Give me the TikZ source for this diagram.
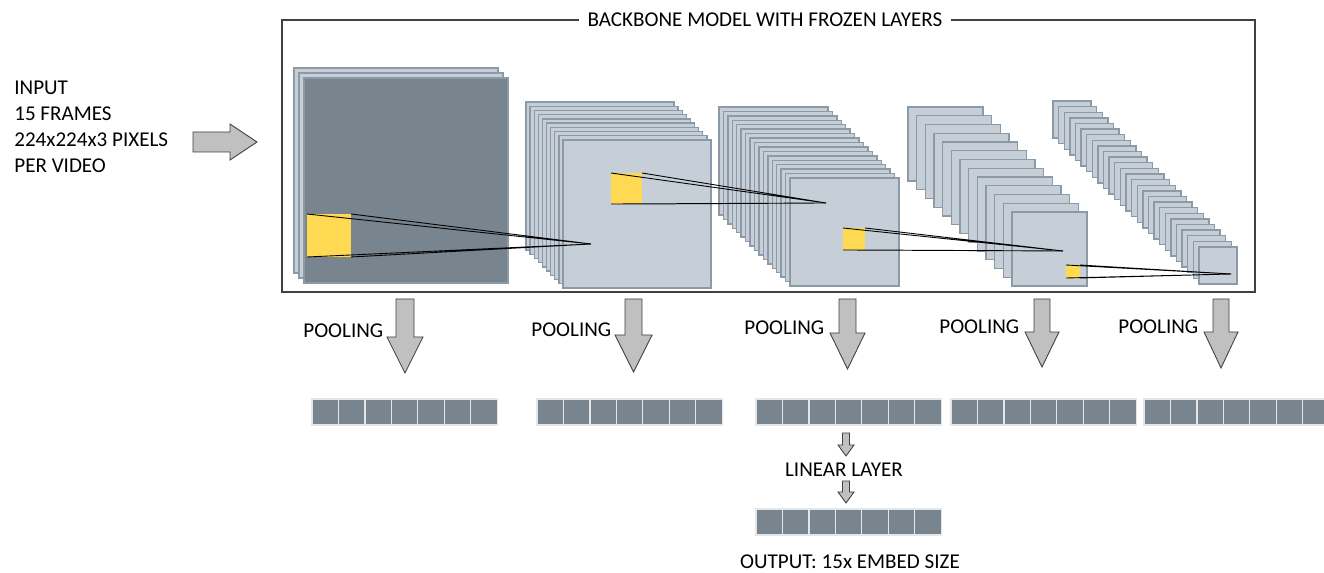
\documentclass[tikz,border=0pt]{standalone}
\usepackage{fontspec}
\setmainfont{Carlito}
\definecolor{slate}{RGB}{120,132,142}
\definecolor{sheet}{RGB}{198,206,215}
\definecolor{sheetedge}{RGB}{140,154,166}
\definecolor{patch}{RGB}{255,217,82}
\definecolor{arrowgrey}{RGB}{192,192,192}
\definecolor{linegrey}{RGB}{64,64,64}
\tikzset{
  sheetbox/.style={fill=sheet, draw=sheetedge, line width=0.8pt},
  cellbox/.style={fill=slate, draw=white!80!slate, line width=0.7pt},
  blockarrow/.style={fill=arrowgrey, draw=linegrey, line width=0.5pt, line join=miter},
  txt/.style={font=\fontsize{12}{14.8}\selectfont, inner sep=0pt},
  ray/.style={black, line width=0.5pt}
}
\begin{document}
\begin{tikzpicture}[x=0.02cm, y=-0.02cm]
  \useasboundingbox (0,0) rectangle (1324,573);
  \draw[linegrey, line width=0.8pt] (282,20) rectangle (1255,292);
  \node[txt, fill=white, inner xsep=5pt, inner ysep=2pt] (title) at (765,20) {BACKBONE MODEL WITH FROZEN LAYERS};
  \node[txt, align=left, anchor=west] (input) at (14,127) {INPUT\\15 FRAMES\\224x224x3 PIXELS\\PER VIDEO};
  \filldraw[blockarrow] (193,132) -- (230,132) -- (230,124) -- (257,142) -- (230,160) -- (230,152) -- (193,152) -- cycle;
  % feature map stacks, back sheet to front sheet
  \foreach \bx/\by/\fx/\fy/\w/\h/\n in {294/68/304/78/204/205/3, 526/102/563/140/148/148/10,
      719/107/790/178/109/108/17, 908/107/1012/212/75/74/13, 1053/101/1199/247/38/37/27} {
    \foreach \i in {1,...,\n} {
      \pgfmathsetmacro\px{\bx+(\i-1)*(\fx-\bx)/(\n-1)}
      \pgfmathsetmacro\py{\by+(\i-1)*(\fy-\by)/(\n-1)}
      \filldraw[sheetbox] (\px,\py) rectangle ++(\w,\h);
    }
  }
  \filldraw[fill=slate, draw=sheetedge, line width=0.8pt] (304,78) rectangle ++(204,205);
  % receptive fields
  \foreach \ax/\ay/\bx/\by/\tx/\ty in {307/214/351/257/591/244, 611/173/642/204/826/203,
      843/228/865/250/1063/251, 1066/265/1080/278/1231/274} {
    \fill[patch] (\ax,\ay) rectangle (\bx,\by);
    \draw[ray] (\ax,\ay) -- (\tx,\ty) -- (\bx,\ay);
    \draw[ray] (\ax,\by) -- (\tx,\ty) -- (\bx,\by);
  }
  % pooling
  \foreach \x/\w/\h/\hs/\tip/\lx/\ly [count=\k] in {405/9/18/337/373/303/331, 633.5/8.5/18.5/335/372/531/330,
      847.5/8.5/17.5/333/369/744/328, 1042/8/17/332/367/939/327, 1221/8/17/332/368/1118/327} {
    \filldraw[blockarrow] (\x-\w,299) -- (\x+\w,299) -- (\x+\w,\hs) -- (\x+\h,\hs) -- (\x,\tip) -- (\x-\h,\hs) -- (\x-\w,\hs) -- cycle;
    \node[txt, anchor=west] (pool\k) at (\lx,\ly) {POOLING};
  }
  \foreach \bx/\by in {312/399, 537/399, 756/399, 951/399, 1144/399, 756/509}
    \foreach \c in {0,...,6}
      \filldraw[cellbox] (\bx+\c*26.45,\by) rectangle ++(26.45,26);
  \foreach \t/\hs/\tip in {433/445/456, 481/492/503}
    \filldraw[blockarrow] (842.5,\t) -- (849.5,\t) -- (849.5,\hs) -- (854,\hs) -- (846,\tip) -- (838,\hs) -- (842.5,\hs) -- cycle;
  \node[txt] (linear) at (844,470) {LINEAR LAYER};
  \node[txt] (output) at (850,562) {OUTPUT: 15x EMBED SIZE};
\end{tikzpicture}
\end{document}
